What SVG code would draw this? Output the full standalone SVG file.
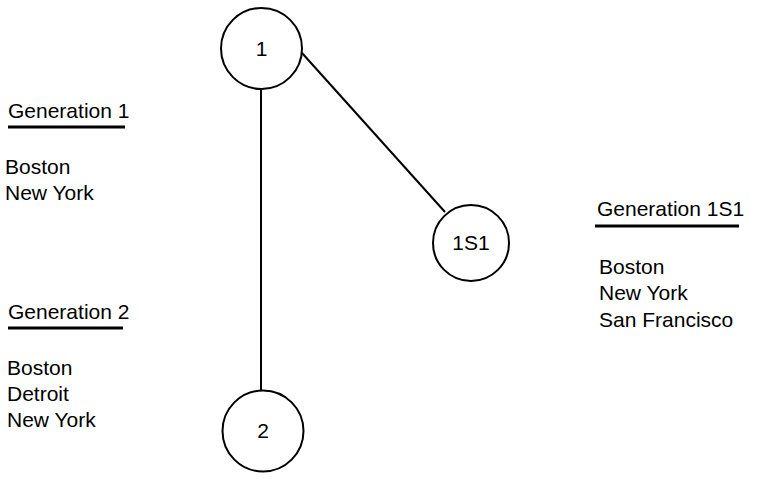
<svg xmlns="http://www.w3.org/2000/svg" width="758" height="483" viewBox="0 0 758 483">
<style>
.n{fill:#fff;stroke:#000;stroke-width:2}
.t{font-family:"Liberation Sans",Arial,sans-serif;font-size:21px;fill:#000}
.c{text-anchor:middle}
.u{stroke:#000;stroke-width:3}
.e{stroke:#000;stroke-width:2;fill:none}
</style>
<rect width="758" height="483" fill="#fff"/>
<g id="connectors">
<line class="e" x1="261" y1="89" x2="261" y2="391"/>
<line class="e" x1="302" y1="53" x2="445" y2="212"/>
</g>
<g id="node-1"><circle class="n" cx="261.5" cy="48.5" r="40.5"/><text class="t c" x="261.5" y="56">1</text></g>
<g id="node-1S1"><circle class="n" cx="471" cy="243" r="38"/><text class="t c" x="471" y="250">1S1</text></g>
<g id="node-2"><circle class="n" cx="263" cy="431" r="40.5"/><text class="t c" x="263" y="438">2</text></g>
<g id="label-gen1">
<text class="t" x="8" y="118">Generation 1</text>
<line class="u" x1="8" y1="127" x2="125" y2="127"/>
<text class="t" x="5" y="174">Boston</text>
<text class="t" x="5" y="200">New York</text>
</g>
<g id="label-gen2">
<text class="t" x="8" y="319">Generation 2</text>
<line class="u" x1="8" y1="328" x2="123" y2="328"/>
<text class="t" x="7" y="375">Boston</text>
<text class="t" x="7" y="401">Detroit</text>
<text class="t" x="7" y="427">New York</text>
</g>
<g id="label-gen1S1">
<text class="t" x="597" y="216">Generation 1S1</text>
<line class="u" x1="595" y1="226" x2="739" y2="226"/>
<text class="t" x="599" y="274">Boston</text>
<text class="t" x="599" y="300">New York</text>
<text class="t" x="599" y="327">San Francisco</text>
</g>
</svg>
